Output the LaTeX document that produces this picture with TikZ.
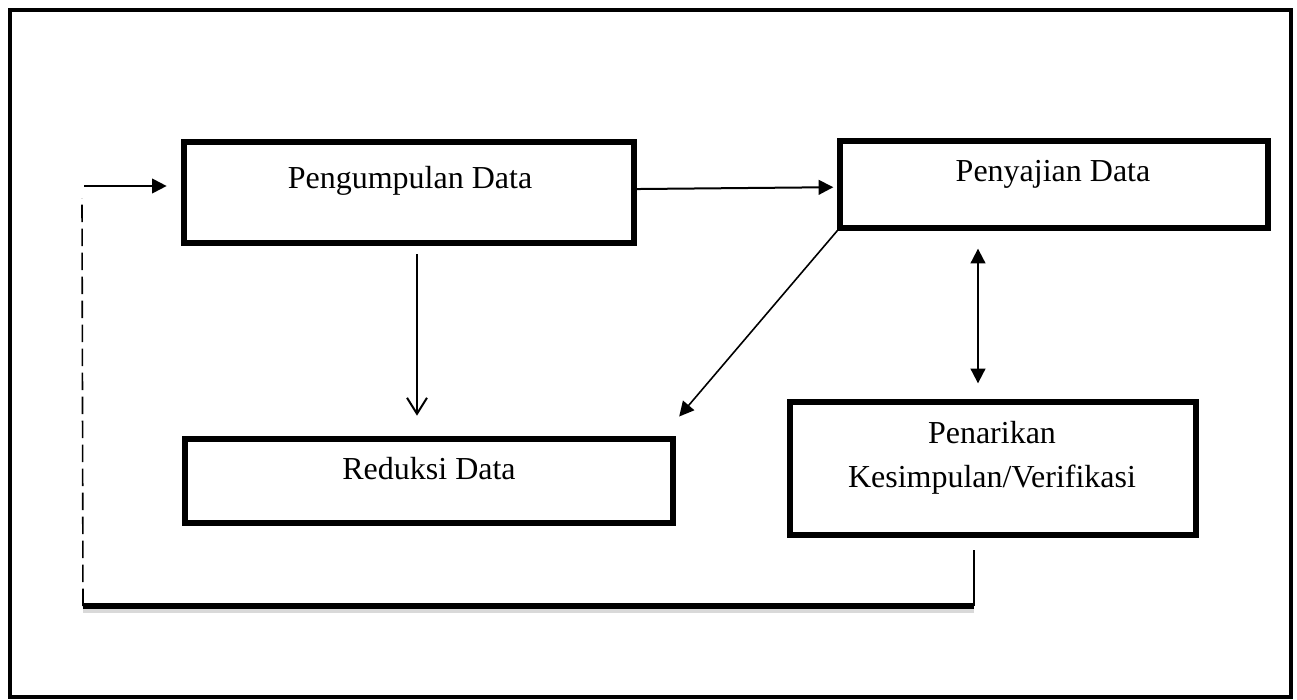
\documentclass[tikz,border=0pt]{standalone}
\usepackage{fontspec}
\setmainfont{Liberation Serif}
\usetikzlibrary{arrows.meta}

\begin{document}
\begin{tikzpicture}[x=0.75pt,y=0.75pt,yscale=-1,xscale=1,
    kotak/.style={draw, line width=4pt, inner sep=0pt},
    teks/.style={inner sep=0.75pt, font=\fontsize{24}{33}\selectfont},
    panah/.style={line width=1.5pt, -{Triangle[length=11pt,width=11pt]}},
    panahdua/.style={line width=1.5pt, {Triangle[length=11pt,width=11pt]}-{Triangle[length=11pt,width=11pt]}},
    panahbuka/.style={line width=1.5pt, -{Straight Barb[length=12pt,width=15pt]}}]
        \useasboundingbox (0,0) rectangle (1297,700);
        
        %Shape: Rectangle (frame)
        \draw  [line width=3pt] (10,10) rectangle (1291,697) ;
        
        %Shape: Rectangle
        \draw (409,192.5) node [kotak, minimum width=337.5pt, minimum height=75.75pt] (pengumpulan) {};
        %Shape: Rectangle
        \draw (1054,184.5) node [kotak, minimum width=321pt, minimum height=65.25pt] (penyajian) {};
        %Shape: Rectangle
        \draw (429,481) node [kotak, minimum width=366pt, minimum height=63pt] (reduksi) {};
        %Shape: Rectangle
        \draw (993,468.5) node [kotak, minimum width=304.5pt, minimum height=99.75pt] (penarikan) {};
        
        % Text Node
        \draw (410,188) node [teks, anchor=base] (tpengumpulan) {Pengumpulan Data};
        % Text Node
        \draw (1053,181) node [teks, anchor=base] (tpenyajian) {Penyajian Data};
        % Text Node
        \draw (429,479) node [teks, anchor=base] (treduksi) {Reduksi Data};
        % Text Node
        \draw (992,420) node [teks, anchor=north, align=center] (tpenarikan) {Penarikan\\Kesimpulan/Verifikasi};
        
        %Straight Lines
        \coordinate (masuk) at (84,186);
        \coordinate (balikKanan) at (974,606);
        \coordinate (balikKiri) at (83,606);
        \coordinate (balikAtas) at (82,198);
        
        \draw [panah, shorten >=11pt] (masuk) -- (masuk -| pengumpulan.west);
        \draw [panah, shorten >=3pt] ([yshift=-2.6pt]pengumpulan.east) -- ([yshift=2pt]penyajian.west);
        \draw [panahbuka, shorten <=6.5pt, shorten >=15.5pt] ([xshift=6pt]pengumpulan.south) -- ([xshift=6pt]pengumpulan.south |- reduksi.north);
        \draw [panah, line width=1.2pt, shorten >=19.5pt] (penyajian.south west) -- ([xshift=-10pt]reduksi.north east);
        \draw [panahdua, shorten <=13.5pt, shorten >=12pt] ([xshift=-11.25pt]penarikan.north |- penyajian.south) -- ([xshift=-11.25pt]penarikan.north);
        
        %Straight Lines (balik)
        \draw [line width=2pt, shorten <=9.5pt] (balikKanan |- penarikan.south) -- (balikKanan);
        \draw [line width=3pt, black!15] ([yshift=4pt]balikKanan) -- ([yshift=4pt]balikKiri);
        \draw [line width=4.2pt] (balikKanan) -- (balikKiri);
        \draw [line width=1.2pt, dash pattern=on 13pt off 5pt] (balikKiri) -- (balikAtas);
        
\end{tikzpicture}
\end{document}
